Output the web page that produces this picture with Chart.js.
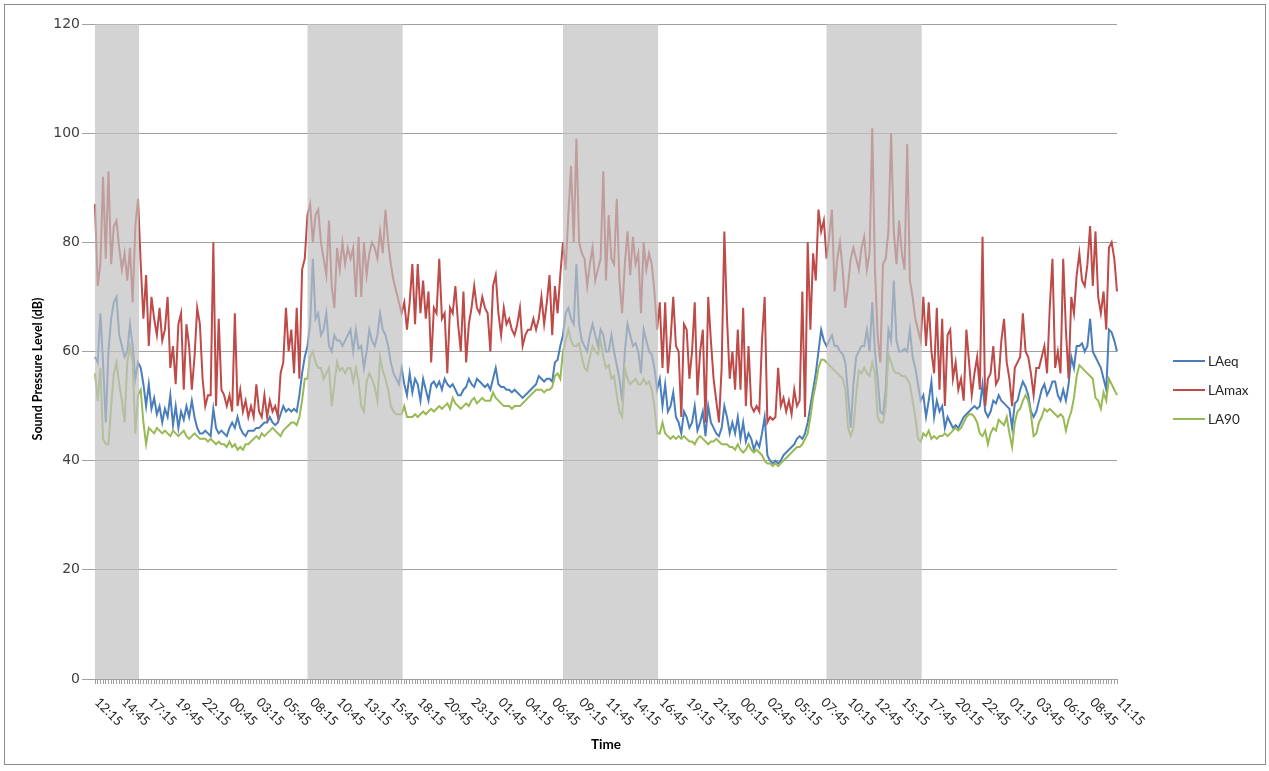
<!DOCTYPE html>
<html>
<head>
<meta charset="utf-8">
<script src="https://cdn.jsdelivr.net/npm/chart.js@4/dist/chart.umd.min.js"></script>
<style>
html,body{margin:0;padding:0;background:#fff;}
canvas{display:block;}
</style>
</head>
<body>
<canvas id="c" width="1269" height="771"></canvas>
<script>
// ---- data (15-minute samples starting 12:15) ----
const startTime = '12:15';
const stepMinutes = 15;
const labelStep = 10; // every 2.5 h a label

const tickLabels = ['12:15','14:45','17:15','19:45','22:15','00:45','03:15','05:45','08:15','10:45','13:15','15:45','18:15','20:45','23:15','01:45','04:15','06:45','09:15','11:45','14:15','16:45','19:15','21:45','00:15','02:45','05:15','07:45','10:15','12:45','15:15','17:45','20:15','22:45','01:15','03:45','06:15','08:45','11:15'];

const lamax = [
87,72,76,92,77,93,76,83,84,79,75,78,73,79,69,83,88,
76,66,74,61,70,66,63,68,62,64,70,57,61,54,65,67,53,65,61,53,59,68,65,55,50,52,52,80,50,66,53,
52,50,52,49,67,50,53,49,51,48,50,48,54,49,48,52,48,51,49,50,48,56,58,68,60,64,56,68,55,75,77,
85,87,80,85,86,80,77,74,84,72,68,79,75,80,76,79,77,79,70,81,70,80,74,78,80,79,77,82,78,86,80,76,73,71,69,
67,69,64,69,76,65,76,67,73,66,71,58,68,67,77,66,67,56,68,67,72,65,60,71,58,65,68,72,68,67,70,68,67,
60,72,74,67,63,68,65,66,64,63,65,68,61,63,64,64,66,64,66,70,65,69,74,63,72,67,74,
80,75,85,94,80,99,80,78,77,72,76,79,73,75,77,93,73,85,77,76,88,73,67,76,82,74,81,76,78,67,80,75,78,76,71,64,
69,57,69,56,62,70,61,60,48,65,64,55,60,69,52,60,64,47,70,62,55,51,47,57,82,66,55,60,53,64,53,68,50,61,
50,49,50,49,62,70,47,48,47.5,48,57,50,51.5,49,51,48.5,53,50,51,71,48,80,64,78,73,86,82,84,
77,81,86,71,77,80,75,68,72,77,79,77,75,79,81,75,78,101,75,63,58,76,77,82,100,82,76,84,78,75,98,73,70,66,64,62,
70,61,69,60,56,68,53,66,50,63,64,55,58,53,55,51,64,58,52,56,59,53,81,50,55,56,61,54,55,
62,66,58,55,50,57,58,59,67,60,59,56,52,57,57,59,61,56,68,77,57,60,56,77,64,55,70,67,74,78,73,72,76,83,72,82,70,67,71,64,79,80,77,71
];

const laeq = [
59,58,67,58,47,60,66,69,70,63,61,59,60,65,61,55,58,
57,54,50,54,49.5,51.5,48.5,50,47,49.5,48,52,46.5,50,46,49,47.5,50,48,51,48,46,45,45,45.5,45,44.5,49.5,46,45,45.5,
45,44.5,46,47,46,48,46,45,44.5,45.5,45.5,45.5,46,46,46.5,47,47,48,47,46.5,47,48.5,50,49,49.5,49,49.5,49,52,56,59,
61,65,77,66,67,63,64,67,61,60,63,62,62,61,62,63,64,60,64,60.5,61,57,60,64,62,61,63,67,64,63,61,58,56,55,54,
57,54,52,56,52.5,55,54,51,55,53,51,54,54.5,53.5,54.5,53,55,54,53.5,54,53,52,52,53,53.5,55,54,53.5,55,54.5,54,53.5,54,
53,55,57,54,53.5,53.5,53,53,52.5,53,52.5,52,51.5,52,52.5,53,53.5,54,55.5,55,54.5,55,55,54.5,58,58.5,61,
63,67,68,66,65,76,65,62,61,60,63,65,63,61,64,63,60,60,63,60,57.5,55,51,60,65,63,61,61.5,60,56,64,62,60,59.5,57,53,
55,50,54,49,50,52.5,48,47,45,49,48,46,47,50,45.5,47,49,44.5,50,47,46,45,44.5,46,50,48,45,47,45,48,44,47,43.5,45,
44,42,43.5,42.5,45,48,41,40,39.5,40,39.5,40,41,41.5,42,42.5,43,44,44.5,44,45,47,50,53,56,60,64,62,
61,62,63,61,61,60,59.5,58,52,46,54,59,60,61,61,64,60,69,60,55,49,48.5,53,64,62,73,62,60,60,60.5,60,64,59,57,54,51,
52,48,51,54.5,48,51,49,50,46,48,47,46,46.5,46,47,48,48.5,49,49.5,50,49.5,50,54,49,48,49,51,50.5,52,
51,50.5,50,49.5,46,50.5,51,53,54.5,53.5,52,49,48,49,51,53,54,52,53,54.5,54.5,52,51,53,51,54,59,57,61,61,61.5,60,61,66,60,59,58,57,55,53,64,63.5,62,60
];

const la90 = [
56,51,57,44,43,43,50,56,58,54,51,47,58,61,58,45,52,
53,47,43,46,45.5,45,46,45.5,45,45.5,45,44.5,45.5,45,44.5,45,45.5,44.5,44,44.5,45,44.5,44,44,44,43.5,44,43.5,43,43.5,43,
43,42.5,43.5,42.5,43,42,42.5,42,43,43,43.5,44,44.5,44,45,44.5,45,45.5,46,45.5,45,44.5,45.5,46,46.5,47,47,46.5,48,51,55,
55,59,60,58,57,57,55,56,57,50,54,58,56.5,57,56,57,57,54.5,57,54.5,50,49,54.5,56,55,53.5,51,59,56.5,55,53,50,49,48.5,48.5,
48.5,50,48,48,48,48.5,48,48.5,49,48.5,49,49.5,49,49.5,50,49.5,50,50.5,49.5,51.5,50.5,50,49.5,50,50.5,50,51,51.5,50.5,51,51.5,51,51,
51,52.5,51.5,51,50.5,50,50,50,49.5,50,50,50,50.5,51,51.5,52,52.5,53,53,53,52.5,53,53,53.5,55.5,56,55,
60,62,64,62,61,61,61.5,59,57,56.5,59,61,60,59.5,62,59,57,57.5,55,55.5,52,49,48,57,55,54,54.5,55,54,54,55,54,54.5,53,50,45,
45,47,45,44.5,44,44.5,44,44.5,44,44.5,44,43.5,43.5,43,44,44.5,44,43.5,43,43.5,43.5,44,43.5,43,43,43,42.5,42.5,42,43,42,41.5,42,43,
42,41.5,42,41.5,41,40,39.5,39.5,39,39.5,39,39.5,40,40.5,41,41.5,42,42.5,42.5,43,44,45,48,51.5,54,57,58.5,58.5,
58,57.5,57,56.5,56,55.5,55,53,46,44.5,46,52,56.5,56,57,56,55.5,58,56,48,47,47,50,59.5,58,56.5,56,56,55.5,55.5,55,54,51,48,44,43.5,
45,44.5,45.5,44,44.5,44,44.5,44.5,45,44.5,45,45.5,46,45.5,46,47,48,48.5,48.5,48,47,45,44.5,45.5,43,45,46,45.5,47.5,
47,46.5,48,45,42.5,47,49,49.5,51,52,51,48.5,44.5,45,47,48,49.5,49,49.5,49,48.5,48,48.5,48,45.5,47.5,49,51.5,55.5,57.5,57,56.5,56,55.5,55,51.5,51,49.5,52.5,51,55,54,53,52
];

// shaded day-time periods, as [first sample index, last sample index]
const shadedRanges = [[0,16],[79,114],[174,209],[272,307]];

const seriesNames = ['LAeq','LAmax','LA90'];
const seriesColors = ['#4a7ebb','#be4b48','#98b954'];

// category labels (sample times)
const [sh, sm] = startTime.split(':').map(Number);
const categories = lamax.map((_, i) => {
  const m = (sh*60 + sm + i*stepMinutes) % 1440;
  return String(Math.floor(m/60)).padStart(2,'0') + ':' + String(m%60).padStart(2,'0');
});

const bandPlugin = {
  id: 'bands',
  afterDatasetsDraw(chart) {
    const {ctx, chartArea: ca, scales: {x}} = chart;
    ctx.save();
    ctx.fillStyle = 'rgba(192,192,192,0.7)';
    shadedRanges.forEach(([a,b]) => {
      const x0 = x.getPixelForValue(a), x1 = x.getPixelForValue(b);
      ctx.fillRect(x0, ca.top, x1 - x0 + 1, ca.bottom - ca.top);
    });
    ctx.restore();
  }
};

const decorPlugin = {
  id: 'decor',
  afterDraw(chart) {
    const {ctx, chartArea: ca, scales: {x}} = chart;
    ctx.save();
    // rotated time labels
    ctx.fillStyle = '#262626';
    ctx.font = '13px Lato, "Open Sans", sans-serif';
    ctx.textAlign = 'left';
    ctx.textBaseline = 'middle';
    tickLabels.forEach((t, k) => {
      const px = x.getPixelForValue(k * labelStep);
      ctx.save();
      ctx.translate(px + 2, ca.bottom + 21);
      ctx.rotate(Math.PI / 4);
      ctx.fillText(t, 0, 0);
      ctx.restore();
    });
    // axis titles
    ctx.fillStyle = '#000';
    ctx.textAlign = 'center';
    ctx.font = 'bold 13.5px Lato, sans-serif';
    ctx.fillText('Time', (ca.left + ca.right) / 2, 745);
    const yTitle = 'Sound Pressure Level (dB)';
    ctx.font = 'bold 12.5px Lato, sans-serif';
    ctx.save();
    ctx.translate(38, 369);
    ctx.rotate(-Math.PI / 2);
    ctx.fillText(yTitle, 0, 0);
    ctx.restore();
    // legend
    ctx.textAlign = 'left';
    ctx.font = '13.5px Lato, sans-serif';
    chart.data.datasets.forEach((ds, i) => {
      const ly = 361 + i * 29;
      ctx.strokeStyle = ds.borderColor;
      ctx.lineWidth = 2;
      ctx.beginPath();
      ctx.moveTo(1173, ly);
      ctx.lineTo(1205, ly);
      ctx.stroke();
      ctx.fillStyle = '#262626';
      ctx.fillText(ds.label, 1208, ly + 1);
    });
    // outer frame
    ctx.strokeStyle = '#8c8c8c';
    ctx.lineWidth = 1;
    ctx.strokeRect(4.5, 4.5, 1261, 760);
    ctx.restore();
  }
};

const seriesData = [laeq, lamax, la90];

new Chart(document.getElementById('c'), {
  type: 'line',
  data: {
    labels: categories,
    datasets: seriesNames.map((n, i) => ({
      label: n,
      data: seriesData[i],
      borderColor: seriesColors[i],
      backgroundColor: seriesColors[i],
      borderWidth: 2,
      pointRadius: 0,
      tension: 0,
      fill: false,
      order: 3 - i
    }))
  },
  options: {
    responsive: false,
    animation: false,
    devicePixelRatio: 1,
    layout: { padding: { left: 0, right: 152, top: 24, bottom: 0 } },
    plugins: { legend: { display: false }, tooltip: { enabled: false } },
    scales: {
      x: {
        type: 'category',
        offset: false,
        ticks: { display: false, autoSkip: false },
        grid: { display: true, drawOnChartArea: false, drawTicks: true, tickLength: 5, color: '#a0a0a0' },
        border: { display: true, color: '#a0a0a0' },
        afterFit: s => { s.height = 92; }
      },
      y: {
        min: 0, max: 120,
        ticks: { stepSize: 20, font: { family: 'DejaVu Sans', size: 14 }, color: '#404040', padding: 2 },
        grid: { color: '#a0a0a0', tickLength: 13 },
        border: { display: false },
        afterFit: s => { s.width = 95; }
      }
    }
  },
  plugins: [bandPlugin, decorPlugin]
});
</script>
</body>
</html>
